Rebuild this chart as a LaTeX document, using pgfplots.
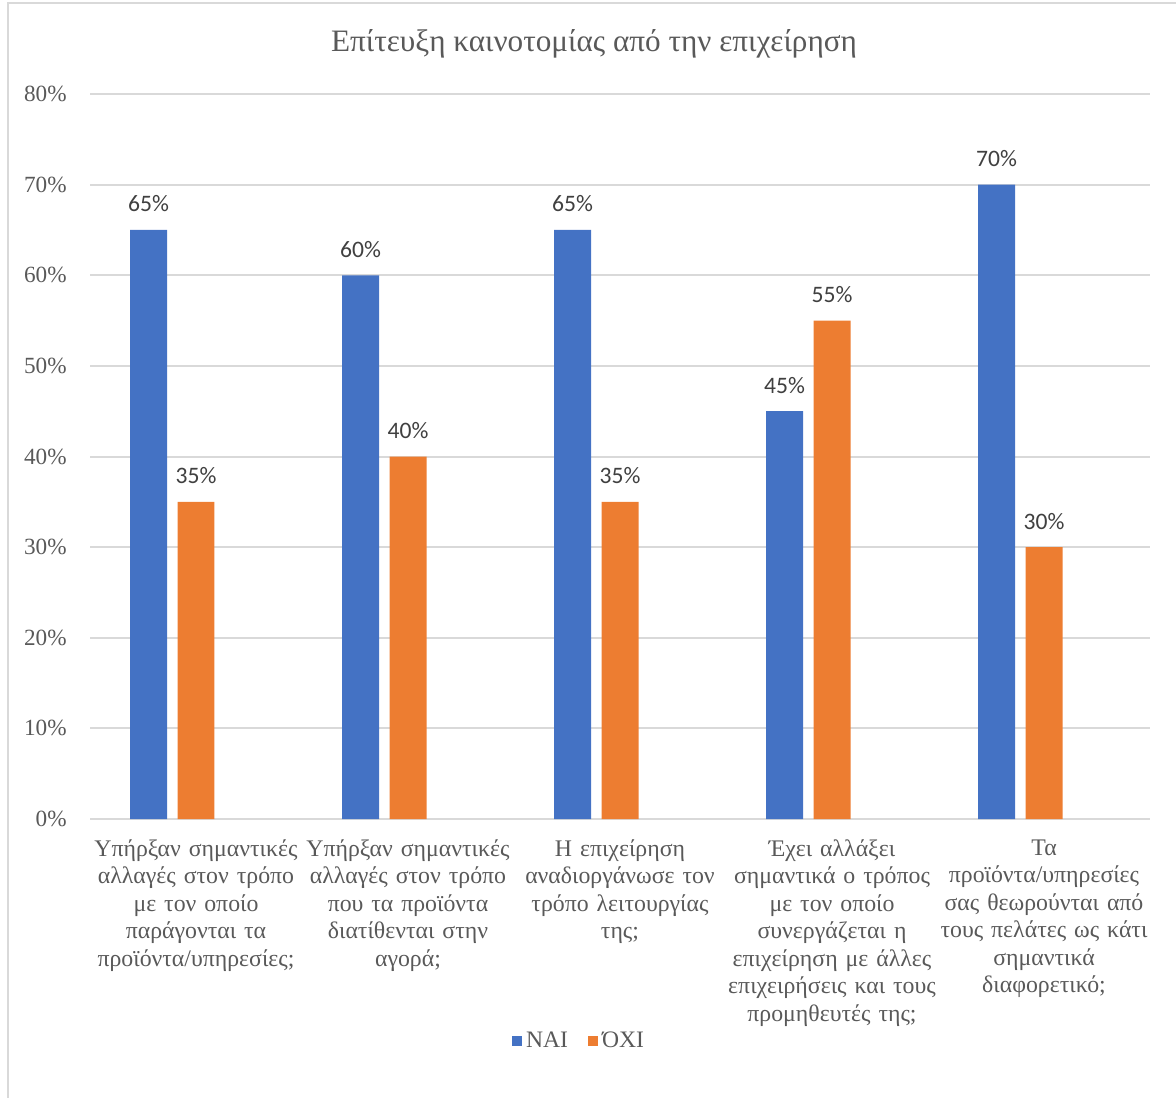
\documentclass[border=0pt]{standalone}
\usepackage{pgfplots}
\pgfplotsset{compat=1.18}
\usepackage{fontspec}
\setmainfont{Liberation Serif}
\newfontfamily\lblfont{Carlito}
\definecolor{cblue}{HTML}{4472C4}
\definecolor{corange}{HTML}{ED7D31}
\definecolor{cgrid}{HTML}{D9D9D9}
\definecolor{ctext}{HTML}{595959}
\definecolor{clbl}{HTML}{404040}
\pgfkeys{/pgf/number format/assume math mode=true}
\begin{document}
\begin{tikzpicture}
\useasboundingbox (0,0) rectangle (588pt,-548.5pt);
\draw[cgrid, line width=1pt] (4pt,-1.5pt) rectangle (600pt,-560pt);
\node[anchor=base, text=ctext, font=\fontsize{15.6}{18}\selectfont] at (297pt,-26pt) {Επίτευξη καινοτομίας από την επιχείρηση};
\begin{axis}[
  at={(45pt,-409.5pt)}, anchor=south west,
  scale only axis, width=530pt, height=362.5pt,
  xmin=-0.5, xmax=4.5, ymin=0, ymax=80,
  axis line style={draw=none},
  axis x line*=bottom,
  ytick={0,10,...,80},
  yticklabel={\pgfmathprintnumber{\tick}\%},
  yticklabel style={anchor=east, inner sep=0pt, xshift=-11.5pt, text=ctext, font=\fontsize{11.6}{13.75}\selectfont},
  ymajorgrids, grid style={cgrid, line width=1pt},
  major tick length=0pt,
  xtick={0,1,2,3,4},
  xticklabels={
    {Υπήρξαν σημαντικές\\αλλαγές στον τρόπο\\με τον οποίο\\παράγονται τα\\προϊόντα/υπηρεσίες;},
    {Υπήρξαν σημαντικές\\αλλαγές στον τρόπο\\που τα προϊόντα\\διατίθενται στην\\αγορά;},
    {Η επιχείρηση\\αναδιοργάνωσε τον\\τρόπο λειτουργίας\\της;},
    {Έχει αλλάξει\\σημαντικά ο τρόπος\\με τον οποίο\\συνεργάζεται η\\επιχείρηση με άλλες\\επιχειρήσεις και τους\\προμηθευτές της;},
    {Τα\\προϊόντα/υπηρεσίες\\σας θεωρούνται από\\τους πελάτες ως κάτι\\σημαντικά\\διαφορετικό;}},
  xticklabel style={anchor=north, align=center, text width=110pt, inner sep=0pt, yshift=-10pt, text=ctext, font=\fontsize{11.9}{13.75}\selectfont},
  ybar, bar width=0.1745,
  nodes near coords={\pgfmathprintnumber{\pgfplotspointmeta}\%},
  nodes near coords style={anchor=center, yshift=13pt, inner sep=0pt, text=clbl, font=\lblfont\fontsize{11.8}{14}\selectfont},
  legend style={at={(0.4623,-0.3062)}, anchor=center, legend columns=2, draw=none, fill=none,
    font=\fontsize{11.8}{13.75}\selectfont, text=ctext,
    /tikz/every even column/.append style={column sep=8pt}},
  legend image code/.code={\fill[#1] (0pt,-2.5pt) rectangle (5pt,2.5pt);},
]
\addplot[fill=cblue, draw=none, bar shift=-0.224] coordinates {(0,65) (1,60) (2,65) (3,45) (4,70)};
\addplot[fill=corange, draw=none, bar shift=0] coordinates {(0,35) (1,40) (2,35) (3,55) (4,30)};
\legend{ΝΑΙ, ΌΧΙ}
\end{axis}
\end{tikzpicture}
\end{document}
